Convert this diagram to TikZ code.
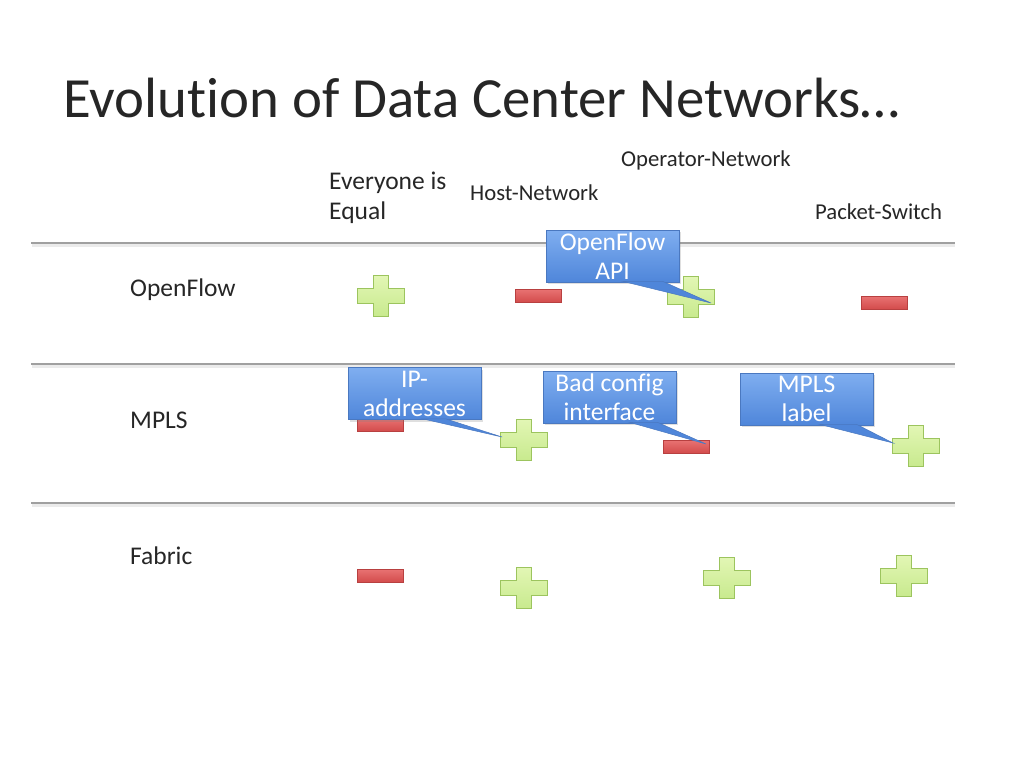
\documentclass[tikz,border=0pt]{standalone}
\usepackage{fontspec}
\setmainfont{Carlito}[Ligatures=NoCommon]
\usetikzlibrary{shadows,calc}
\definecolor{boxtop}{HTML}{7FAEF0}
\definecolor{boxbot}{HTML}{4F86DA}
\definecolor{boxline}{HTML}{4A78C0}
\definecolor{plusfill}{HTML}{E2F6B4}
\definecolor{plusfill2}{HTML}{C8EA8E}
\definecolor{plusline}{HTML}{9CC45E}
\definecolor{minusfill}{HTML}{E87272}
\definecolor{minusfill2}{HTML}{D24A4A}
\definecolor{minusline}{HTML}{B84040}
\definecolor{rule}{HTML}{A0A0A0}
\newcommand{\plusat}[3]{%
  \coordinate (#1) at (#2,#3);
  \draw[plusshape] ($(#1)+(-7.5,-20.5)$) -- ++(15,0) -- ++(0,13) -- ++(16,0) -- ++(0,15) -- ++(-16,0)
    -- ++(0,13) -- ++(-15,0) -- ++(0,-13) -- ++(-16,0) -- ++(0,-15) -- ++(16,0) -- cycle;}
\begin{document}
\begin{tikzpicture}[x=1pt,y=-1pt,
  titletext/.style={anchor=base west,inner sep=0pt,font=\fontsize{56.8}{64}\selectfont,text=black!85},
  rowtext/.style={anchor=base west,inner sep=0pt,font=\fontsize{25.5}{29}\selectfont,text=black!85},
  smalltext/.style={anchor=base west,inner sep=0pt,font=\fontsize{22.7}{26}\selectfont,text=black!85},
  rulestyle/.style={draw=rule,line width=1.3pt},
  ruleshadow/.style={draw=black!8,line width=3pt},
  calloutbox/.style={draw=boxline,line width=0.6pt,top color=boxtop,bottom color=boxbot,
    minimum width=133pt,minimum height=52pt,inner sep=0pt,align=center,text=white,
    font=\fontsize{25.5}{29}\selectfont,drop shadow={shadow xshift=1.5pt,shadow yshift=-2pt,opacity=0.25}},
  pointer/.style={fill=boxbot,draw=boxline,line width=0.5pt},
  plusshape/.style={top color=plusfill,bottom color=plusfill2,draw=plusline,line width=0.8pt},
  minusshape/.style={top color=minusfill,bottom color=minusfill2,draw=minusline,line width=0.6pt,
    minimum width=46pt,minimum height=13pt,inner sep=0pt}
]
\useasboundingbox (0,0) rectangle (1024,768);
\fill[white] (0,0) rectangle (1024,768);

% title
\node[titletext] (title) at (63,117) {Evolution of Data Center Networks…};

% column headers
\node[rowtext] (h1) at (329,189) {Everyone is};
\node[rowtext] (h1b) at (329,219) {Equal};
\node[smalltext] (h2) at (470,200) {Host-Network};
\node[smalltext] (h3) at (621,166) {Operator-Network};
\node[smalltext] (h4) at (815,219) {Packet-Switch};

% rules
\foreach \yy in {243,364,503}{
  \draw[ruleshadow] (32,\yy+2.5) -- (955,\yy+2.5);
  \draw[rulestyle] (31,\yy) -- (955,\yy);
}

% row labels
\node[rowtext] (r1) at (130,296) {OpenFlow};
\node[rowtext] (r2) at (130,428) {MPLS};
\node[rowtext] (r3) at (130,564) {Fabric};

% plus signs
\plusat{p1}{381}{296}
\plusat{p2}{691}{297}
\plusat{p3}{524}{440}
\plusat{p4}{916}{446}
\plusat{p5}{524}{588}
\plusat{p6}{727}{578}
\plusat{p7}{904}{576}

% minus signs
\node[minusshape] (m1) at (538,296) {};
\node[minusshape] (m2) at (884,303) {};
\node[minusshape] (m3) at (380,425) {};
\node[minusshape] (m4) at (686,447) {};
\node[minusshape] (m5) at (380,576) {};

% callouts
\node[calloutbox] (c1) at (612.5,256) {OpenFlow\\API};
\node[calloutbox] (c2) at (414.5,393.5) {IP-\\addresses};
\node[calloutbox] (c3) at (609.5,397) {Bad config\\interface};
\node[calloutbox] (c4) at (806.5,399) {MPLS\\label};

% pointers
\coordinate (t1) at (711,303);
\coordinate (t2) at (502,437);
\coordinate (t3) at (706,444);
\coordinate (t4) at (893,443);
\fill[pointer] ($(c1.south)+(10,-1)$) -- (t1) -- ($(c1.south)+(50,-1)$) -- cycle;
\fill[pointer] ($(c2.south)+(8,-1)$) -- (t2) -- ($(c2.south)+(31,-1)$) -- cycle;
\fill[pointer] ($(c3.south)+(20,-1)$) -- (t3) -- ($(c3.south)+(48,-1)$) -- cycle;
\fill[pointer] ($(c4.south)+(13,-1)$) -- (t4) -- ($(c4.south)+(50,-1)$) -- cycle;
\end{tikzpicture}
\end{document}
